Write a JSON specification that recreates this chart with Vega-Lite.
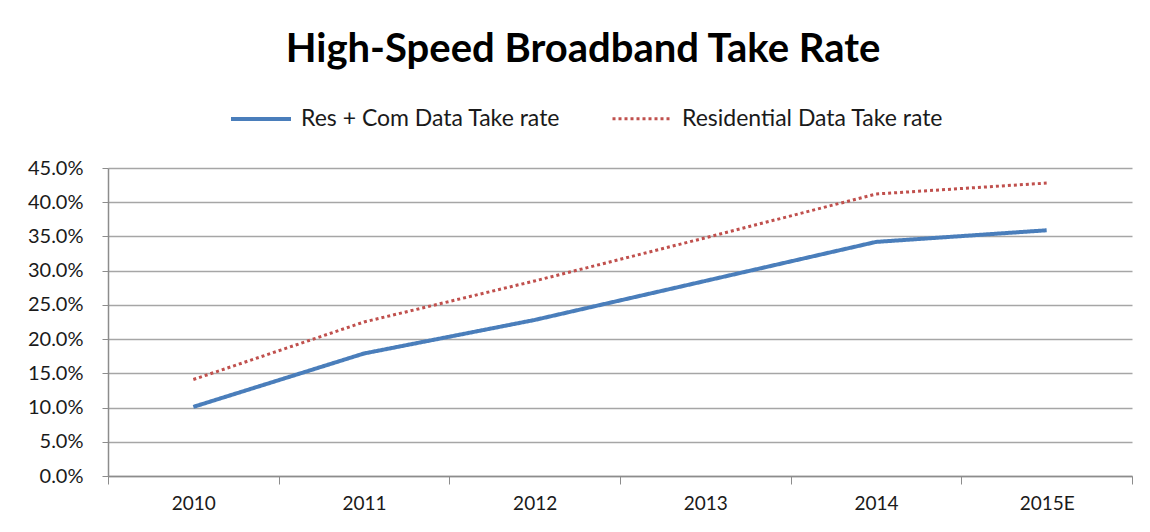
{
  "$schema": "https://vega.github.io/schema/vega-lite/v6.json",
  "width": 1024,
  "height": 308,
  "autosize": "none",
  "padding": {"left": 108, "top": 168, "right": 18, "bottom": 56},
  "background": "white",
  "title": {
    "text": "High-Speed Broadband Take Rate",
    "font": "Lato",
    "fontSize": 40,
    "fontWeight": "bold",
    "color": "#000000",
    "anchor": "middle",
    "frame": "group",
    "dx": -37,
    "offset": 17
  },
  "data": {
    "values": [
      {"year": "2010", "series": "Res + Com Data Take rate", "rate": 0.101},
      {"year": "2011", "series": "Res + Com Data Take rate", "rate": 0.179},
      {"year": "2012", "series": "Res + Com Data Take rate", "rate": 0.228},
      {"year": "2013", "series": "Res + Com Data Take rate", "rate": 0.285},
      {"year": "2014", "series": "Res + Com Data Take rate", "rate": 0.342},
      {"year": "2015E", "series": "Res + Com Data Take rate", "rate": 0.359},
      {"year": "2010", "series": "Residential Data Take rate", "rate": 0.141},
      {"year": "2011", "series": "Residential Data Take rate", "rate": 0.225},
      {"year": "2012", "series": "Residential Data Take rate", "rate": 0.285},
      {"year": "2013", "series": "Residential Data Take rate", "rate": 0.348},
      {"year": "2014", "series": "Residential Data Take rate", "rate": 0.412},
      {"year": "2015E", "series": "Residential Data Take rate", "rate": 0.428}
    ]
  },
  "mark": {"type": "line", "strokeCap": "butt"},
  "encoding": {
    "x": {
      "field": "year",
      "type": "ordinal",
      "scale": {"type": "band", "paddingInner": 0, "paddingOuter": 0},
      "axis": {
        "title": null,
        "labelAngle": 0,
        "tickBand": "extent",
        "tickSize": 8,
        "tickColor": "#8c8c8c",
        "domainColor": "#8c8c8c",
        "domainWidth": 1.5,
        "labelFont": "Lato",
        "labelFontSize": 19,
        "labelColor": "#1a1a1a",
        "labelPadding": 10,
        "grid": false
      }
    },
    "y": {
      "field": "rate",
      "type": "quantitative",
      "scale": {"domain": [0, 0.45], "nice": false},
      "axis": {
        "title": null,
        "values": [0, 0.05, 0.1, 0.15, 0.2, 0.25, 0.3, 0.35, 0.4, 0.45],
        "format": ".1%",
        "tickSize": 6,
        "tickColor": "#8c8c8c",
        "domainColor": "#8c8c8c",
        "domainWidth": 1.5,
        "gridColor": "#a6a6a6",
        "gridWidth": 1.5,
        "labelFont": "Lato",
        "labelFontSize": 20,
        "labelColor": "#1a1a1a",
        "labelPadding": 19
      }
    },
    "color": {
      "field": "series",
      "type": "nominal",
      "scale": {
        "domain": ["Res + Com Data Take rate", "Residential Data Take rate"],
        "range": ["#4a7ebb", "#c0504d"]
      },
      "legend": {
        "title": null,
        "orient": "none",
        "direction": "horizontal",
        "legendX": 121,
        "legendY": -81,
        "symbolType": "stroke",
        "symbolSize": 3600,
        "symbolStrokeWidth": 4,
        "labelFont": "Lato",
        "labelFontSize": 23,
        "labelColor": "#1a1a1a",
        "labelOffset": 8,
        "columnPadding": 45,
        "labelLimit": 400
      }
    },
    "strokeDash": {
      "field": "series",
      "type": "nominal",
      "scale": {
        "domain": ["Res + Com Data Take rate", "Residential Data Take rate"],
        "range": [[1, 0], [3, 3]]
      },
      "legend": {
        "title": null,
        "orient": "none",
        "direction": "horizontal",
        "legendX": 121,
        "legendY": -81,
        "symbolType": "stroke",
        "symbolSize": 3600,
        "symbolStrokeWidth": 4,
        "labelFont": "Lato",
        "labelFontSize": 23,
        "labelColor": "#1a1a1a",
        "labelOffset": 8,
        "columnPadding": 45,
        "labelLimit": 400
      }
    },
    "strokeWidth": {
      "field": "series",
      "type": "nominal",
      "scale": {
        "domain": ["Res + Com Data Take rate", "Residential Data Take rate"],
        "range": [4, 3]
      },
      "legend": null
    }
  },
  "config": {
    "view": {"stroke": null}
  }
}
